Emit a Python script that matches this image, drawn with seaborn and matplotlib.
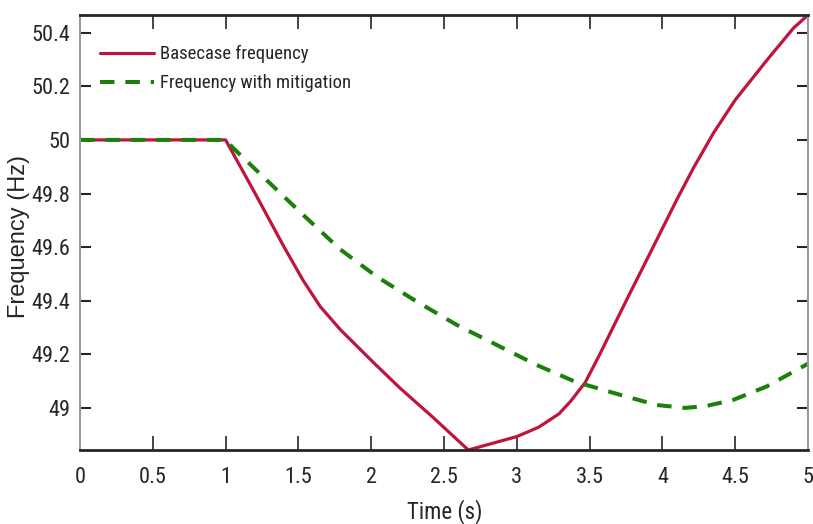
import matplotlib
matplotlib.use("Agg")
import matplotlib.pyplot as plt
from matplotlib import font_manager as fm
import seaborn as sns
import pandas as pd

# Data
t_base = [0, 1.0, 1.19, 1.40, 1.53, 1.65, 1.79, 2.02, 2.20, 2.43, 2.667, 3.0, 3.15,
          3.29, 3.37, 3.47, 3.57, 3.686, 3.777, 3.892, 3.984, 4.098, 4.212, 4.35,
          4.5, 4.72, 4.9, 5.0]
f_base = [50, 50, 49.813, 49.602, 49.478, 49.378, 49.291, 49.167, 49.073, 48.962,
          48.843, 48.893, 48.928, 48.978, 49.025, 49.095, 49.200, 49.328, 49.428,
          49.552, 49.652, 49.776, 49.894, 50.025, 50.149, 50.299, 50.417, 50.466]
t_mit = [0, 1.0, 1.053, 1.305, 1.545, 1.786, 2.038, 2.312, 2.587, 2.862, 3.137,
         3.40, 3.709, 3.96, 4.155, 4.30, 4.487, 4.716, 5.0]
f_mit = [50, 50, 49.969, 49.838, 49.714, 49.592, 49.49, 49.397, 49.31, 49.235,
         49.16, 49.098, 49.049, 49.011, 49.0, 49.007, 49.03, 49.08, 49.165]
series_names = ["Basecase frequency", "Frequency with mitigation"]
x_ticks = [0, 0.5, 1, 1.5, 2, 2.5, 3, 3.5, 4, 4.5, 5]
y_ticks = [49, 49.2, 49.4, 49.6, 49.8, 50, 50.2, 50.4]

sns.set_theme(style="white")
plt.rcParams["font.family"] = ["Liberation Sans", "DejaVu Sans"]

# look for a narrow / condensed Helvetica-like face, fall back to Liberation Sans
narrow_path = None
for key in ["liberationsansnarrow", "arialnarrow", "robotocondensed", "opensanscondensed"]:
    for f in fm.fontManager.ttflist:
        tag = (f.name + f.fname).lower().replace(" ", "").replace("-", "")
        if key in tag and f.style == "normal" and f.weight in (400, "normal", "regular"):
            narrow_path = f.fname
            break
    if narrow_path:
        break

def fp(size):
    if narrow_path:
        return fm.FontProperties(fname=narrow_path, size=size)
    return fm.FontProperties(family=["Liberation Sans", "DejaVu Sans"], size=size * 0.86)

fig = plt.figure(figsize=(8.13, 5.24), dpi=100)
ax = fig.add_axes([80/813, 1-450/524, 728/813, 435/524])

df_b = pd.DataFrame({"t": t_base, "f": f_base})
df_m = pd.DataFrame({"t": t_mit, "f": f_mit})
sns.lineplot(data=df_b, x="t", y="f", ax=ax, color="#C0143C", lw=2.3,
             label=series_names[0], sort=False, estimator=None)
sns.lineplot(data=df_m, x="t", y="f", ax=ax, color="#1A800A", lw=2.9,
             label=series_names[1], sort=False, estimator=None,
             linestyle=(0, (3.6, 2.7)))

ax.set_xlim(0, 5)
ax.set_ylim(48.843, 50.466)
ax.set_xticks(x_ticks)
ax.set_xticklabels([f"{v:g}" for v in x_ticks], fontproperties=fp(16), color="#262626")
ax.set_yticks(y_ticks)
ax.set_yticklabels([f"{v:g}" for v in y_ticks], fontproperties=fp(16), color="#262626")

ax.tick_params(axis="both", direction="in", colors="#262626",
               top=True, right=True, bottom=True, left=True)
ax.tick_params(axis="x", length=10, width=1.2, pad=12)
ax.tick_params(axis="y", length=8, width=1.5, pad=7)
for s in ["top", "bottom"]:
    ax.spines[s].set_color("#262626")
    ax.spines[s].set_linewidth(2.0)
for s in ["left", "right"]:
    ax.spines[s].set_color("#9a9a9a")
    ax.spines[s].set_linewidth(1.5)
    ax.spines[s].set_visible(True)

ax.set_xlabel("Time (s)", fontproperties=fp(16.5), color="#262626")
ax.xaxis.set_label_coords((445 - 80) / 728, (450 - 512) / 435)
ax.xaxis.label.set_va("center")
ax.set_ylabel("Frequency (Hz)", fontsize=17, color="#262626",
              family=["Liberation Sans", "DejaVu Sans"])
ax.yaxis.set_label_coords((19 - 80) / 728, (450 - 237) / 435)
ax.yaxis.label.set_va("center")

leg = ax.legend(loc="upper left", bbox_to_anchor=(0.0275, 1 - (45 - 15) / 435),
                frameon=False, borderpad=0, borderaxespad=0, prop=fp(13.5),
                handlelength=2.9, handletextpad=0.3, labelspacing=0.6)
for txt in leg.get_texts():
    txt.set_color("#262626")

fig.savefig("out.png", dpi=100)
